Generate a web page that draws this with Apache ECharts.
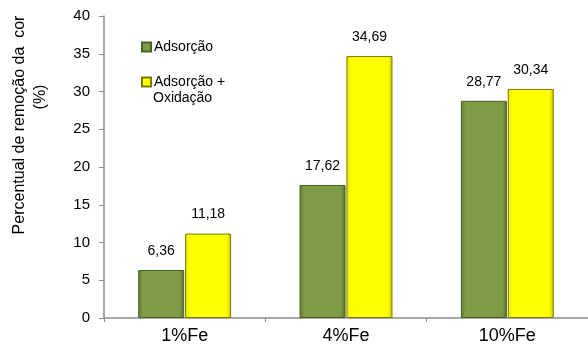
<!DOCTYPE html>
<html>
<head>
<meta charset="utf-8">
<script src="https://cdn.jsdelivr.net/npm/echarts@6/dist/echarts.min.js"></script>
<style>
  html, body { margin: 0; padding: 0; background: #fff; }
  #chart { width: 588px; height: 351px; }
</style>
</head>
<body>
<div id="chart"></div>
<script>
// Color removal (%) per iron loading
const categories = ['1%Fe', '4%Fe', '10%Fe'];
const adsorcao = [6.36, 17.62, 28.77];
const adsorcaoOxidacao = [11.18, 34.69, 30.34];
const yTicks = [0, 5, 10, 15, 20, 25, 30, 35, 40];

const FONT = 'Liberation Sans, Arial, sans-serif';
const fmt = v => v.toFixed(2).replace('.', ',');

const greenFill = new echarts.graphic.LinearGradient(0, 0, 1, 0, [
  { offset: 0, color: '#5f7b2d' },
  { offset: 0.1, color: '#7e9b47' },
  { offset: 0.9, color: '#7e9b47' },
  { offset: 1, color: '#566f27' }
]);
const yellowFill = new echarts.graphic.LinearGradient(0, 0, 1, 0, [
  { offset: 0, color: '#e6e600' },
  { offset: 0.1, color: '#ffff00' },
  { offset: 0.9, color: '#ffff00' },
  { offset: 1, color: '#c2c200' }
]);

const labelStyle = {
  show: true,
  position: 'top',
  distance: 12,
  fontFamily: FONT,
  fontSize: 14,
  color: '#000',
  formatter: p => fmt(p.value)
};

const chart = echarts.init(document.getElementById('chart'));
chart.setOption({
  animation: false,
  // the plot area runs slightly past the right edge of the canvas
  grid: { left: 104, right: -5, top: 16, bottom: 33 },
  legend: {
    orient: 'vertical',
    left: 141,
    top: 40,
    padding: 0,
    itemWidth: 9,
    itemHeight: 9,
    itemGap: 21,
    icon: 'rect',
    textStyle: { fontFamily: FONT, fontSize: 14, color: '#000', padding: [0, 0, 0, -2] },
    formatter: name => name === 'Adsorção + Oxidação' ? 'Adsorção +' : name
  },
  graphic: [
    {
      type: 'text', left: 153, top: 91,
      style: { text: 'Oxidação', font: '14px ' + FONT, fill: '#000' }
    },
    {
      type: 'text', x: 20, y: 125, rotation: Math.PI / 2,
      style: {
        text: 'Percentual de remoção da  cor', font: '16px ' + FONT, fill: '#000',
        align: 'center', verticalAlign: 'middle'
      }
    },
    {
      type: 'text', x: 41, y: 97, rotation: Math.PI / 2,
      style: {
        text: '(%)', font: '16px ' + FONT, fill: '#000',
        align: 'center', verticalAlign: 'middle'
      }
    }
  ],
  xAxis: {
    type: 'category',
    data: categories,
    axisLine: { lineStyle: { color: '#8c8c8c', width: 1.5 } },
    axisTick: { show: true, length: 4, lineStyle: { color: '#8c8c8c' } },
    axisLabel: { fontFamily: FONT, fontSize: 18, color: '#000', margin: 9 }
  },
  yAxis: {
    type: 'value',
    min: 0,
    max: 40,
    interval: 5,
    splitLine: { show: false },
    axisLine: { show: true, lineStyle: { color: '#8c8c8c', width: 1.5 } },
    axisTick: { show: true, length: 5, lineStyle: { color: '#8c8c8c' } },
    axisLabel: {
      fontFamily: FONT, fontSize: 15, color: '#000', margin: 14,
      formatter: v => yTicks.includes(v) ? String(v) : ''
    }
  },
  series: [
    {
      name: 'Adsorção',
      type: 'bar',
      data: adsorcao,
      barWidth: 46,
      barGap: '2%',
      itemStyle: { color: greenFill, borderColor: '#4a6120', borderWidth: 1 },
      label: labelStyle
    },
    {
      name: 'Adsorção + Oxidação',
      type: 'bar',
      data: adsorcaoOxidacao,
      barWidth: 46,
      itemStyle: { color: yellowFill, borderColor: '#7a7a00', borderWidth: 1 },
      label: labelStyle
    }
  ]
});
</script>
</body>
</html>
